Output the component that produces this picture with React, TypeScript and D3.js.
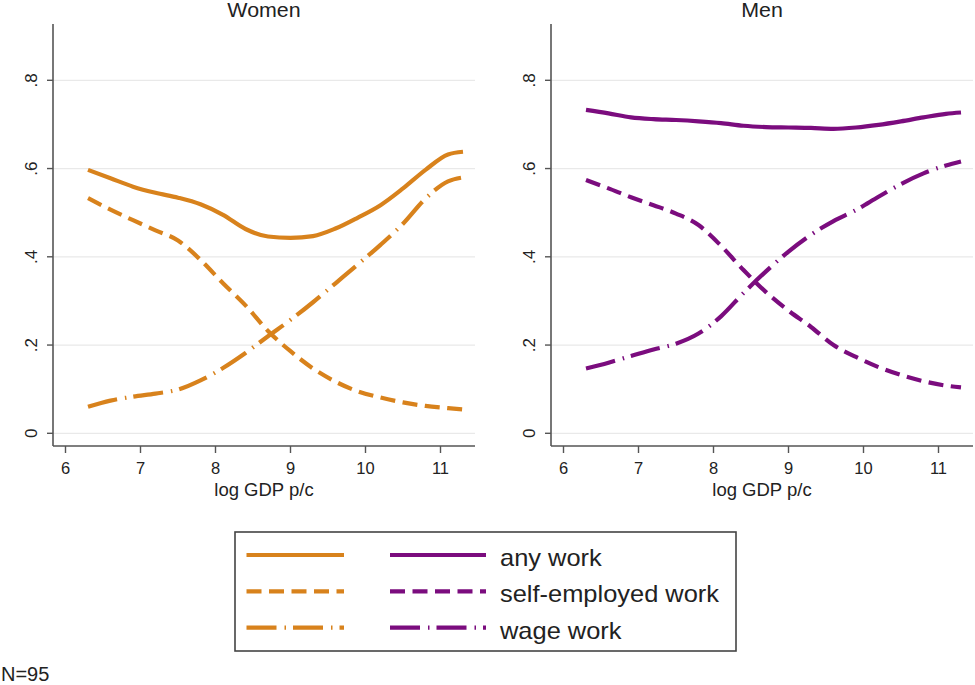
import * as d3 from 'd3'
import React from 'react'

// log GDP per capita grid shared by all fitted curves
const logGdp = [6.3, 6.6, 6.9, 7.2, 7.5, 7.8, 8.1, 8.4, 8.7, 9.0, 9.3, 9.6, 9.9, 10.2, 10.5, 10.8, 11.1, 11.3]

const womenAny = [0.597, 0.578, 0.559, 0.545, 0.534, 0.519, 0.495, 0.463, 0.446, 0.443, 0.447, 0.464, 0.489, 0.517, 0.555, 0.597, 0.632, 0.638]
const womenSelf = [0.533, 0.507, 0.483, 0.46, 0.437, 0.393, 0.34, 0.29, 0.232, 0.186, 0.147, 0.117, 0.095, 0.081, 0.07, 0.062, 0.057, 0.054]
const womenWage = [0.06, 0.074, 0.083, 0.09, 0.099, 0.12, 0.148, 0.182, 0.22, 0.257, 0.297, 0.34, 0.383, 0.427, 0.475, 0.532, 0.571, 0.58]

const menAny = [0.733, 0.725, 0.716, 0.712, 0.71, 0.707, 0.703, 0.697, 0.694, 0.693, 0.692, 0.69, 0.693, 0.699, 0.707, 0.716, 0.724, 0.727]
const menSelf = [0.574, 0.555, 0.535, 0.517, 0.498, 0.472, 0.425, 0.37, 0.32, 0.278, 0.241, 0.2, 0.173, 0.15, 0.132, 0.118, 0.108, 0.104]
const menWage = [0.147, 0.16, 0.175, 0.19, 0.203, 0.226, 0.265, 0.318, 0.367, 0.412, 0.45, 0.481, 0.506, 0.536, 0.565, 0.589, 0.607, 0.616]

const xTicks = [6, 7, 8, 9, 10, 11]
const yTicks = [0, 0.2, 0.4, 0.6, 0.8]
const yTickLabels = ['0', '.2', '.4', '.6', '.8']
const seriesLabels = ['any work', 'self-employed work', 'wage work']

const ORANGE = '#d8821c'
const PURPLE = '#7b0c7e'
const dashes = [null, '15,7.5', '30,8,1.5,7']
const FONT = '"Liberation Sans", Arial, sans-serif'
const AXIS = '#555'

const yScale = d3.scaleLinear().domain([0, 0.8]).range([433.3, 80.3])

type PanelProps = { left: number, title: string, color: string, series: number[][] }

const Panel = ({ left, title, color, series }: PanelProps) => {
    const right = left + 422
    const x = d3.scaleLinear().domain([6, 11]).range([left + 12.5, left + 387.5])
    const line = d3.line<number>()
        .x((d, i) => x(logGdp[i]))
        .y(d => yScale(d))
        .curve(d3.curveMonotoneX)
    const top = 24, bottom = 446
    const mid = (left + right) / 2
    return (
        <g>
            <text transform={`translate(${mid},17) scale(1.07,1)`} fontSize={20} textAnchor="middle" fill="#222">{title}</text>
            {yTicks.map(t => (
                <line key={'g' + t} x1={left} x2={right} y1={yScale(t)} y2={yScale(t)} stroke="#e9e9e9" strokeWidth={1.2} />
            ))}
            {series.map((s, i) => (
                <path key={i} d={line(s) || ''} fill="none" stroke={color} strokeWidth={4.2}
                    strokeDasharray={dashes[i] || undefined} />
            ))}
            <line x1={left} x2={left} y1={top} y2={bottom} stroke={AXIS} strokeWidth={1.6} />
            <line x1={left} x2={right} y1={bottom} y2={bottom} stroke={AXIS} strokeWidth={1.6} />
            {yTicks.map((t, i) => (
                <g key={'y' + t}>
                    <line x1={left - 6} x2={left} y1={yScale(t)} y2={yScale(t)} stroke={AXIS} strokeWidth={1.4} />
                    <text transform={`translate(${left - 16},${yScale(t)}) rotate(-90)`} fontSize={17}
                        textAnchor="middle" fill="#222">{yTickLabels[i]}</text>
                </g>
            ))}
            {xTicks.map(t => (
                <g key={'x' + t}>
                    <line x1={x(t)} x2={x(t)} y1={bottom} y2={bottom + 7} stroke={AXIS} strokeWidth={1.4} />
                    <text x={x(t)} y={474} fontSize={16.5} textAnchor="middle" fill="#222">{t}</text>
                </g>
            ))}
            <text x={mid} y={495.5} fontSize={18.5} textAnchor="middle" fill="#222">log GDP p/c</text>
        </g>
    )
}

export default function App() {
    return (
        <svg width={975} height={685} style={{ position: 'absolute', left: 0, top: 0 }} fontFamily={FONT}>
            <rect width={975} height={685} fill="#fff" />
            <Panel left={53} title="Women" color={ORANGE} series={[womenAny, womenSelf, womenWage]} />
            <Panel left={551} title="Men" color={PURPLE} series={[menAny, menSelf, menWage]} />
            <rect x={235} y={532} width={501} height={119} fill="none" stroke="#444" strokeWidth={1.6} />
            {seriesLabels.map((lab, i) => {
                const yy = 555 + i * 36.3
                return (
                    <g key={lab}>
                        <line x1={246.5} x2={344} y1={yy} y2={yy} stroke={ORANGE} strokeWidth={4.2} strokeDasharray={dashes[i] || undefined} />
                        <line x1={390} x2={486} y1={yy} y2={yy} stroke={PURPLE} strokeWidth={4.2} strokeDasharray={dashes[i] || undefined} />
                        <text transform={`translate(500,${yy + 11}) scale(1.06,1)`} fontSize={24} fill="#222">{lab}</text>
                    </g>
                )
            })}
            <text x={1} y={681} fontSize={20} fill="#222">N=95</text>
        </svg>
    )
}
